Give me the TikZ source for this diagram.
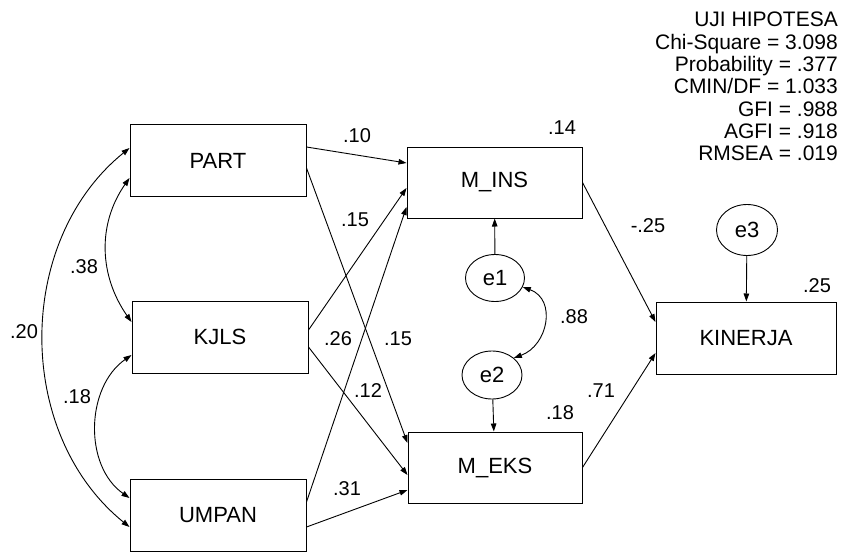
\documentclass[tikz,border=0pt]{standalone}
\usepackage{fontspec}
\setmainfont{Liberation Sans}
\usetikzlibrary{arrows.meta,shapes.geometric}
\begin{document}
\begin{tikzpicture}[x=1pt,y=-1pt,
  box/.style={draw,line width=1pt,rectangle,inner sep=0pt,minimum width=176pt,minimum height=72pt,font=\fontsize{22}{22}\selectfont},
  err/.style={draw,line width=0.9pt,ellipse,inner sep=0pt,minimum width=60pt,minimum height=48pt,font=\fontsize{22}{22}\selectfont},
  lbl/.style={inner sep=0pt,font=\fontsize{20}{20}\selectfont},
  path1/.style={line width=0.9pt,-{Triangle[length=8pt,width=5.5pt]}},
  cov/.style={line width=0.9pt,{Triangle[length=8pt,width=5.5pt]}-{Triangle[length=8pt,width=5.5pt]}}
]
\fill[white] (0,0) rectangle (843,552);
\useasboundingbox (0,0) rectangle (843,552);

% observed variables
\node[box] (PART) at (218,160.5) {PART};
\node[box] (KJLS) at (220,337) {KJLS};
\node[box] (UMPAN) at (218,515) {UMPAN};
\node[box,minimum width=175pt,minimum height=71pt] (MINS) at (494.5,182.5) {M\_INS};
\node[box,minimum width=174pt,minimum height=71pt] (MEKS) at (495,467.5) {M\_EKS};
\node[box,minimum width=180pt] (KIN) at (746,338) {KINERJA};

% error terms
\node[err,minimum width=59pt,minimum height=47pt] (e1) at (495,278) {e1};
\node[err] (e2) at (492,375) {e2};
\node[err,minimum width=61pt,minimum height=51pt] (e3) at (747,230) {e3};

% paths
\draw[path1] ([yshift=13.5pt]PART.east) -- ([yshift=19.5pt]MINS.west);
\draw[path1] ([yshift=7pt]KJLS.east) -- ([yshift=-5.5pt]MINS.west);
\draw[path1] ([yshift=13pt]UMPAN.east) -- ([yshift=-24.5pt]MINS.west);
\draw[path1] ([yshift=-7.5pt]PART.east) -- ([yshift=24.5pt]MEKS.west);
\draw[path1] ([yshift=-10pt]KJLS.east) -- ([yshift=-7.5pt]MEKS.west);
\draw[path1] ([yshift=-12pt]UMPAN.east) -- ([yshift=-22.5pt]MEKS.west);
\draw[path1] (MINS.east) -- ([yshift=16pt]KIN.west);
\draw[path1] (MEKS.east) -- ([yshift=-15pt]KIN.west);
\draw[path1] (e1) -- (MINS);
\draw[path1] (e2) -- (MEKS);
\draw[path1] (e3) -- (KIN);

% covariances
\draw[cov] ([yshift=-17.5pt]PART.west) to[out=235,in=125] ([yshift=15pt]KJLS.west);
\draw[cov] ([yshift=-18pt]KJLS.west) to[out=215,in=145] ([yshift=17pt]UMPAN.west);
\draw[cov] ([yshift=12.5pt]PART.west) to[out=219,in=141] ([yshift=-12pt]UMPAN.west);
\draw[cov] (e1.-18) to[out=-20,in=20,looseness=1.3] (e2.38);

% coefficients
\node[lbl] (l10) at (357,136) {.10};
\node[lbl] (l15a) at (355,220) {.15};
\node[lbl] (l26) at (338,339) {.26};
\node[lbl] (l15b) at (398,339) {.15};
\node[lbl] (l12) at (368,391) {.12};
\node[lbl] (l31) at (347,489) {.31};
\node[lbl] (l38) at (84,267) {.38};
\node[lbl] (l20) at (24,332) {.20};
\node[lbl] (l18a) at (77,397) {.18};
\node[lbl] (l14) at (562,128) {.14};
\node[lbl] (l25a) at (648,226) {-.25};
\node[lbl] (l88) at (574,317) {.88};
\node[lbl] (l25b) at (817,286) {.25};
\node[lbl] (l71) at (601,391) {.71};
\node[lbl] (l18b) at (560,413) {.18};

% fit statistics
\node[anchor=north east,align=right,inner sep=0pt,font=\fontsize{21}{22.3}\selectfont] (stats) at (838,12)
 {UJI HIPOTESA\\Chi-Square = 3.098\\Probability = .377\\CMIN/DF = 1.033\\GFI = .988\\AGFI = .918\\RMSEA = .019};
\end{tikzpicture}
\end{document}
